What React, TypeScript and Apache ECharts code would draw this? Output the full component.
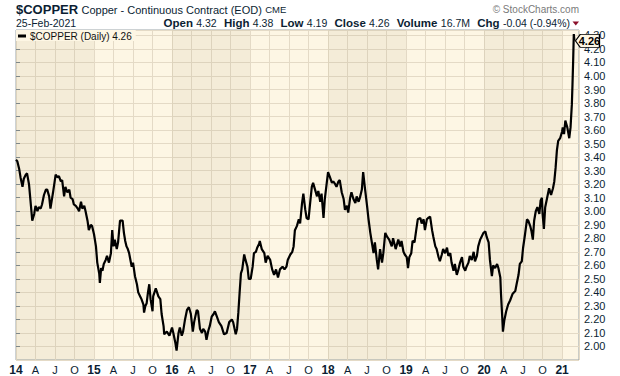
import React, { useEffect, useRef } from 'react';
import * as echarts from 'echarts';

// x = months elapsed since 1 Jan 2014; y = close price (USD/lb)
const months = [
  0.0,0.2,0.5,0.7,1.0,1.2,1.5,1.7,2.0,2.3,2.5,2.8,3.0,3.3,3.5,3.8,4.0,4.3,4.6,4.8,5.1,5.3,5.5,5.7,6.1,6.4,6.6,6.9,7.1,7.4,7.6,7.9,8.2,8.4,8.7,8.9,9.2,9.5,9.7,10.0,10.2,10.5,10.7,11.0,11.2,11.5,11.7,
  12.0,12.3,12.5,12.8,12.9,13.1,13.3,13.5,13.8,14.0,14.3,14.6,14.8,15.0,15.2,15.5,15.7,16.0,16.4,16.6,16.8,17.0,17.2,17.4,17.6,17.8,18.0,18.3,18.6,18.8,19.1,19.3,19.6,19.7,19.9,20.1,20.3,20.5,20.7,21.0,21.1,21.5,21.7,21.9,22.2,22.4,22.7,22.8,23.2,23.6,
  24.0,24.2,24.5,24.7,25.0,25.2,25.5,25.7,26.0,26.3,26.6,26.9,27.2,27.4,27.8,28.0,28.3,28.6,28.8,29.1,29.3,29.6,29.8,30.1,30.4,30.6,30.9,31.2,31.6,32.0,32.4,32.8,33.2,33.4,33.8,34.0,34.2,34.4,34.6,34.8,35.1,35.3,35.6,35.8,
  36.1,36.4,36.6,36.9,37.1,37.4,37.5,37.8,38.2,38.4,38.7,39.1,39.4,39.7,40.0,40.3,40.6,41.0,41.3,41.6,41.8,42.2,42.5,42.7,42.9,43.2,43.5,43.7,44.0,44.2,44.5,44.7,45.0,45.2,45.5,45.7,46.0,46.3,46.5,46.8,47.0,47.3,47.5,47.8,
  48.0,48.3,48.6,48.8,49.1,49.3,49.6,49.8,50.1,50.4,50.6,50.9,51.1,51.4,51.6,51.9,52.2,52.4,52.7,52.9,53.2,53.4,53.7,54.0,54.2,54.5,54.7,55.0,55.2,55.5,55.7,56.0,56.3,56.5,56.8,57.1,57.4,57.8,58.0,58.4,58.8,59.1,59.3,59.6,59.8,
  60.1,60.3,60.5,60.8,61.0,61.3,61.5,61.8,62.2,62.4,62.7,62.9,63.2,63.4,63.7,64.0,64.2,64.5,64.7,65.0,65.2,65.5,65.7,66.0,66.3,66.5,66.8,67.0,67.3,67.5,67.8,68.0,68.3,68.6,68.8,69.1,69.3,69.6,69.8,70.1,70.4,70.6,70.9,71.1,71.4,71.6,71.9,
  72.2,72.4,72.7,72.9,73.2,73.4,73.7,74.0,74.2,74.5,74.6,74.8,74.9,75.1,75.4,75.7,76.0,76.4,76.8,77.0,77.3,77.5,77.8,78.0,78.3,78.6,78.8,79.1,79.3,79.5,79.7,79.95,80.2,80.5,80.7,80.9,81.0,81.2,81.4,81.7,82.0,82.3,82.6,82.8,83.0,83.2,83.4,83.7,84.0,84.1,84.3,84.5,84.8,85.1,85.3,85.5,85.6,85.7,85.8,85.9,
];
const prices = [
  3.38,3.37,3.31,3.25,3.18,3.24,3.27,3.28,3.20,3.04,2.93,2.98,3.04,3.00,3.03,3.02,3.05,3.12,3.16,3.16,3.11,3.02,3.08,3.14,3.27,3.25,3.26,3.22,3.23,3.11,3.18,3.14,3.16,3.10,3.09,3.05,3.04,3.02,3.00,3.07,3.02,3.04,3.00,2.93,2.86,2.90,2.89,
  2.83,2.74,2.62,2.54,2.47,2.58,2.56,2.61,2.64,2.67,2.62,2.69,2.86,2.74,2.79,2.72,2.77,2.93,2.93,2.84,2.78,2.74,2.72,2.69,2.64,2.59,2.62,2.52,2.46,2.40,2.37,2.35,2.31,2.25,2.30,2.32,2.40,2.46,2.35,2.26,2.37,2.43,2.40,2.37,2.35,2.24,2.15,2.09,2.11,2.08,
  2.14,2.10,2.03,1.97,2.10,2.14,2.08,2.11,2.20,2.27,2.29,2.24,2.11,2.18,2.27,2.26,2.13,2.10,2.13,2.11,2.05,2.12,2.15,2.22,2.24,2.26,2.22,2.18,2.15,2.09,2.10,2.18,2.20,2.18,2.09,2.13,2.25,2.40,2.54,2.57,2.68,2.64,2.59,2.50,
  2.50,2.59,2.69,2.70,2.73,2.76,2.78,2.72,2.69,2.62,2.67,2.64,2.57,2.53,2.57,2.51,2.57,2.59,2.57,2.59,2.64,2.68,2.70,2.74,2.86,2.89,2.94,2.91,3.06,3.13,3.01,2.95,2.94,3.04,3.18,3.21,3.16,3.11,3.15,3.07,3.13,2.95,3.09,3.21,
  3.29,3.25,3.21,3.22,3.20,3.18,3.22,3.23,3.14,3.09,3.01,3.04,2.99,3.10,3.14,3.09,3.06,3.11,3.07,3.10,3.16,3.29,3.16,3.04,2.95,2.84,2.78,2.69,2.77,2.64,2.57,2.72,2.62,2.69,2.84,2.81,2.79,2.74,2.80,2.72,2.79,2.74,2.78,2.70,2.68,
  2.66,2.58,2.66,2.69,2.78,2.77,2.84,2.94,2.95,2.91,2.94,2.86,2.94,2.95,2.96,2.86,2.81,2.74,2.72,2.66,2.63,2.68,2.72,2.69,2.73,2.67,2.69,2.62,2.56,2.61,2.53,2.56,2.62,2.66,2.59,2.56,2.59,2.62,2.67,2.64,2.70,2.63,2.67,2.74,2.79,2.81,2.84,
  2.85,2.81,2.77,2.64,2.52,2.60,2.58,2.61,2.58,2.51,2.39,2.21,2.11,2.19,2.26,2.31,2.34,2.39,2.41,2.46,2.53,2.61,2.63,2.73,2.83,2.94,2.93,2.89,2.85,2.79,2.93,3.00,3.03,2.98,3.08,3.10,2.98,2.87,3.03,3.10,3.17,3.12,3.17,3.22,3.32,3.45,3.52,3.54,3.59,3.62,3.57,3.67,3.62,3.54,3.62,3.79,3.94,4.11,4.31,4.26,
];

const firstYear = 14;
const quarterLetters = ['', 'A', 'J', 'O'];
const shadedYearIdx = [0, 2, 4, 6];

const symbolName = '$COPPER';
const seriesName = '$COPPER (Daily)';
const titleText = 'Copper - Continuous Contract (EOD)';
const exchange = 'CME';
const dateText = '25-Feb-2021';
const quoteLabels = ['Open', 'High', 'Low', 'Close', 'Volume', 'Chg'];
const quoteValues = ['4.32', '4.38', '4.19', '4.26', '16.7M', '-0.04 (-0.94%)'];

const FONT = '"Liberation Sans", Arial, Helvetica, sans-serif';
const TXT = '#0b1e33';

export default function App() {
  const ref = useRef<HTMLDivElement>(null);
  useEffect(() => {
    if (!ref.current) return;
    const chart = echarts.init(ref.current, undefined, { renderer: 'svg' });
    const data = months.map((m, i) => [m, prices[i]]);
    const lastM = months[months.length - 1];
    const lastP = prices[prices.length - 1];
    const quoteRich = quoteLabels
      .map((l, i) => `{l|${l}} {v|${quoteValues[i]}}`)
      .join('{g|  }');

    chart.setOption({
      animation: false,
      textStyle: { fontFamily: FONT },
      grid: {
        left: 16, right: 41, top: 30, bottom: 16,
        show: true, backgroundColor: '#fdf6e4', borderColor: '#9aa4a8', borderWidth: 1,
        outerBoundsMode: 'none',
      },
      legend: {
        left: 16, top: 30,
        padding: [1, 4, 0, 2],
        itemWidth: 8, itemHeight: 3, itemGap: 4,
        backgroundColor: '#fdf6e4',
        data: [{ name: seriesName, icon: 'rect' }],
        formatter: (n: string) => `${n} ${lastP.toFixed(2)}`,
        textStyle: { fontSize: 10, color: '#111', fontFamily: FONT, padding: [1, 0, 0, -1] },
      },
      xAxis: {
        type: 'value', min: 0, max: 86.6, interval: 3,
        axisLine: { show: false }, axisTick: { show: false },
        splitLine: { show: true, lineStyle: { color: '#e4dac6', width: 1 } },
        axisLabel: {
          margin: 4, showMaxLabel: false,
          formatter: (v: number) => {
            const r = Math.round(v);
            if (Math.abs(v - r) > 1e-6 || r % 3 !== 0) return '';
            const q = (r % 12) / 3;
            if (q === 0) return `{y|${firstYear + r / 12}}`;
            return `{m|${quarterLetters[q]}}`;
          },
          rich: {
            y: { fontSize: 12, fontWeight: 'bold', color: TXT, fontFamily: FONT },
            m: { fontSize: 11, color: TXT, fontFamily: FONT },
          },
        },
      },
      yAxis: {
        type: 'value', position: 'right', min: 1.9, max: 4.34, interval: 0.1,
        axisLine: { show: false },
        axisTick: { show: true, length: 4, lineStyle: { color: '#7d878c' } },
        splitLine: { show: true, lineStyle: { color: '#e4dac6', width: 1 } },
        axisLabel: {
          margin: 5, showMinLabel: false, showMaxLabel: false,
          fontSize: 11, color: TXT, fontFamily: FONT,
          formatter: (v: number) => v.toFixed(2),
        },
      },
      series: [
        {
          name: seriesName,
          type: 'line',
          data,
          showSymbol: false,
          lineStyle: { color: '#000', width: 2.2 },
          itemStyle: { color: '#000' },
          markArea: {
            silent: true,
            itemStyle: { color: 'rgba(160,140,100,0.09)' },
            data: shadedYearIdx.map((y) => [{ xAxis: y * 12 }, { xAxis: y * 12 + 12 }]),
          },
          markPoint: {
            silent: true,
            symbol: 'path://M0,6L6,0L30,0L30,12L6,12Z',
            symbolSize: [24, 13],
            symbolOffset: [13, 0],
            itemStyle: { color: '#fdf6e4', borderColor: '#000', borderWidth: 1 },
            label: {
              show: true, position: 'inside', offset: [2, 0],
              fontSize: 11, fontWeight: 'bold', color: '#000', fontFamily: FONT,
              formatter: (p: any) => Number(p.value).toFixed(2),
            },
            data: [{ coord: [lastM, lastP], value: lastP }],
          },
        },
      ],
      graphic: [
        {
          type: 'text', left: 16, top: 3,
          style: {
            text: `{a|${symbolName}} {b|${titleText}} {c|${exchange}}`,
            rich: {
              a: { fontSize: 13, fontWeight: 'bold', fill: TXT, fontFamily: FONT },
              b: { fontSize: 11, fill: TXT, fontFamily: FONT },
              c: { fontSize: 9.5, fill: TXT, fontFamily: FONT },
            },
          },
        },
        {
          type: 'text', left: 16, top: 17,
          style: { text: dateText, fontSize: 10.5, fill: TXT, fontFamily: FONT },
        },
        {
          type: 'text', right: 50, top: 16,
          style: {
            text: quoteRich,
            rich: {
              l: { fontSize: 11.5, fontWeight: 'bold', fill: TXT, fontFamily: FONT },
              v: { fontSize: 10.5, fill: TXT, fontFamily: FONT },
              g: { fontSize: 13, fill: TXT, fontFamily: FONT },
            },
          },
        },
        {
          type: 'polygon',
          shape: { points: [[572.5, 21.5], [579, 21.5], [575.75, 25.5]] },
          style: { fill: '#8b0f2a' },
        },
        {
          type: 'text', right: 41, top: 4,
          style: { text: '\u00a9 StockCharts.com', fontSize: 10, fill: '#7a7a7a', fontFamily: FONT },
        },
      ],
    });
    return () => chart.dispose();
  }, []);
  return (
    <div
      ref={ref}
      style={{ position: 'absolute', left: 0, top: 0, width: 620, height: 376, background: '#fff' }}
    />
  );
}
